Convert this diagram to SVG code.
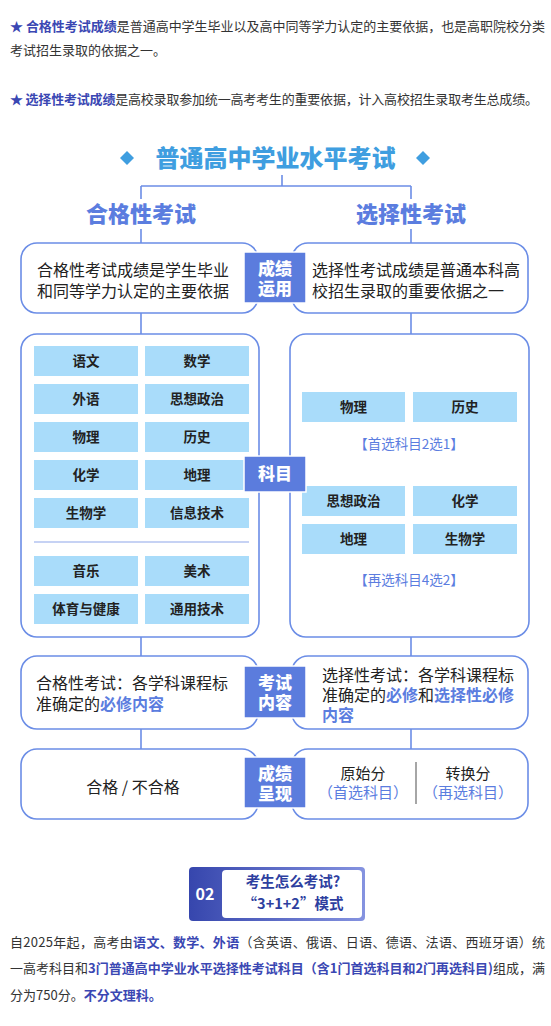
<svg xmlns="http://www.w3.org/2000/svg" width="551" height="1026" viewBox="0 0 551 1026">
<defs>
<linearGradient id="bannerGrad" x1="0" y1="0" x2="1" y2="0">
<stop offset="0" stop-color="#3646ad"/>
<stop offset="1" stop-color="#8593e0"/>
</linearGradient>
<style>
text{font-family:"Noto Sans CJK SC","Noto Sans",sans-serif;}
.p{font-size:13px;fill:#333333;}
.hl{fill:#3a47b3;font-weight:bold;}
.title{font-size:24px;font-weight:900;fill:#3f9ee0;stroke:#ffffff;stroke-width:2;paint-order:stroke;}
.diamond{fill:#3f9ee0;}
.head{font-size:22px;font-weight:900;fill:#5b7ddf;text-anchor:middle;stroke:#ffffff;stroke-width:2;paint-order:stroke;}
.box{fill:#ffffff;stroke:#6b8de6;stroke-width:1.6;}
.conn{stroke:#6b8de6;stroke-width:1.6;fill:none;}
.lbl{fill:#5b7cdd;stroke:#ffffff;stroke-width:1.5;}
.lblt{font-size:17px;font-weight:900;fill:#ffffff;text-anchor:middle;}
.bt{font-size:16px;fill:#222222;}
.rt{font-size:15px;fill:#222222;text-anchor:middle;}
.blue{fill:#5b7ddf;font-weight:bold;}
.cell{fill:#a9dcfa;}
.ct{font-size:13.5px;font-weight:bold;fill:#222222;text-anchor:middle;}
.note{font-size:13.5px;fill:#5b7ddf;text-anchor:middle;}
</style>
</defs>
<rect width="551" height="1026" fill="#ffffff"/>

<g id="intro">
<text class="p" x="10" y="31" textLength="535" lengthAdjust="spacing"><tspan class="hl">★ 合格性考试成绩</tspan>是普通高中学生毕业以及高中同等学力认定的主要依据，也是高职院校分类</text>
<text class="p" x="10" y="55">考试招生录取的依据之一。</text>
<text class="p" x="10" y="104" textLength="528" lengthAdjust="spacing"><tspan class="hl">★ 选择性考试成绩</tspan>是高校录取参加统一高考考生的重要依据，计入高校招生录取考生总成绩。</text>
</g>

<g id="title">
<polygon class="diamond" points="127,151 134,158 127,165 120,158"/>
<text class="title" x="275.5" y="167" text-anchor="middle">普通高中学业水平考试</text>
<polygon class="diamond" points="423,151 430,158 423,165 416,158"/>
</g>

<g id="connectors">
<line class="conn" x1="282" y1="175" x2="282" y2="186"/>
<line class="conn" x1="141" y1="186" x2="411" y2="186"/>
<line class="conn" x1="141" y1="186" x2="141" y2="199"/>
<line class="conn" x1="411" y1="186" x2="411" y2="199"/>
<line class="conn" x1="141" y1="229" x2="141" y2="243"/>
<line class="conn" x1="411" y1="229" x2="411" y2="243"/>
<line class="conn" x1="141" y1="313" x2="141" y2="334"/>
<line class="conn" x1="411" y1="313" x2="411" y2="334"/>
<line class="conn" x1="141" y1="637" x2="141" y2="656"/>
<line class="conn" x1="411" y1="637" x2="411" y2="656"/>
<line class="conn" x1="141" y1="729" x2="141" y2="749"/>
<line class="conn" x1="411" y1="729" x2="411" y2="749"/>
</g>

<g id="head-left"><text class="head" x="141" y="222">合格性考试</text></g>
<g id="head-right"><text class="head" x="411" y="222">选择性考试</text></g>

<g id="use-left">
<rect class="box" x="21" y="243" width="237" height="70" rx="16"/>
<text class="bt" x="37" y="276">合格性考试成绩是学生毕业</text>
<text class="bt" x="37" y="297">和同等学力认定的主要依据</text>
</g>
<g id="use-right">
<rect class="box" x="292" y="243" width="236" height="70" rx="16"/>
<text class="bt" x="312" y="276">选择性考试成绩是普通本科高</text>
<text class="bt" x="312" y="297">校招生录取的重要依据之一</text>
</g>
<g id="label-use">
<rect class="lbl" x="244" y="252" width="62" height="51"/>
<text class="lblt" x="275" y="275">成绩</text>
<text class="lblt" x="275" y="295">运用</text>
</g>

<g id="subjects-left">
<rect class="box" x="21" y="334" width="238" height="303" rx="16"/>
<rect class="cell" x="34" y="346" width="104" height="30"/><text class="ct" x="86" y="366">语文</text>
<rect class="cell" x="145" y="346" width="104" height="30"/><text class="ct" x="197" y="366">数学</text>
<rect class="cell" x="34" y="384" width="104" height="30"/><text class="ct" x="86" y="404">外语</text>
<rect class="cell" x="145" y="384" width="104" height="30"/><text class="ct" x="197" y="404">思想政治</text>
<rect class="cell" x="34" y="422" width="104" height="30"/><text class="ct" x="86" y="442">物理</text>
<rect class="cell" x="145" y="422" width="104" height="30"/><text class="ct" x="197" y="442">历史</text>
<rect class="cell" x="34" y="460" width="104" height="30"/><text class="ct" x="86" y="480">化学</text>
<rect class="cell" x="145" y="460" width="104" height="30"/><text class="ct" x="197" y="480">地理</text>
<rect class="cell" x="34" y="498" width="104" height="30"/><text class="ct" x="86" y="518">生物学</text>
<rect class="cell" x="145" y="498" width="104" height="30"/><text class="ct" x="197" y="518">信息技术</text>
<line x1="34" y1="542" x2="249" y2="542" stroke="#8ea6ea" stroke-width="1.2"/>
<rect class="cell" x="34" y="556" width="104" height="30"/><text class="ct" x="86" y="576">音乐</text>
<rect class="cell" x="145" y="556" width="104" height="30"/><text class="ct" x="197" y="576">美术</text>
<rect class="cell" x="34" y="594" width="104" height="30"/><text class="ct" x="86" y="614">体育与健康</text>
<rect class="cell" x="145" y="594" width="104" height="30"/><text class="ct" x="197" y="614">通用技术</text>
</g>
<g id="subjects-right">
<rect class="box" x="290" y="334" width="239" height="303" rx="16"/>
<rect class="cell" x="302" y="392" width="103" height="30"/><text class="ct" x="353.5" y="412">物理</text>
<rect class="cell" x="413" y="392" width="104" height="30"/><text class="ct" x="465" y="412">历史</text>
<text class="note" x="409" y="449">【首选科目2选1】</text>
<rect class="cell" x="302" y="486" width="103" height="30"/><text class="ct" x="353.5" y="506">思想政治</text>
<rect class="cell" x="413" y="486" width="104" height="30"/><text class="ct" x="465" y="506">化学</text>
<rect class="cell" x="302" y="524" width="103" height="30"/><text class="ct" x="353.5" y="544">地理</text>
<rect class="cell" x="413" y="524" width="104" height="30"/><text class="ct" x="465" y="544">生物学</text>
<text class="note" x="409" y="585">【再选科目4选2】</text>
</g>
<g id="label-subjects">
<rect class="lbl" x="244" y="456" width="62" height="36"/>
<text class="lblt" x="275" y="480">科目</text>
</g>

<g id="content-left">
<rect class="box" x="21" y="656" width="237" height="73" rx="16"/>
<text class="bt" x="36" y="689">合格性考试：各学科课程标</text>
<text class="bt" x="36" y="710">准确定的<tspan class="blue">必修内容</tspan></text>
</g>
<g id="content-right">
<rect class="box" x="292" y="656" width="236" height="73" rx="16"/>
<text class="bt" x="322" y="681">选择性考试：各学科课程标</text>
<text class="bt" x="322" y="701">准确定的<tspan class="blue">必修</tspan>和<tspan class="blue">选择性必修</tspan></text>
<text class="bt" x="322" y="721"><tspan class="blue">内容</tspan></text>
</g>
<g id="label-content">
<rect class="lbl" x="244" y="666" width="62" height="52"/>
<text class="lblt" x="275" y="689">考试</text>
<text class="lblt" x="275" y="709">内容</text>
</g>

<g id="result-left">
<rect class="box" x="21" y="749" width="237" height="70" rx="16"/>
<text class="bt" x="133" y="793" text-anchor="middle">合格 / 不合格</text>
</g>
<g id="result-right">
<rect class="box" x="292" y="749" width="236" height="70" rx="16"/>
<text class="rt" x="363" y="779">原始分</text>
<text class="rt" x="363" y="798" style="fill:#5b7ddf">（首选科目）</text>
<line x1="416" y1="762" x2="416" y2="804" stroke="#888888" stroke-width="1.5"/>
<text class="rt" x="468" y="779">转换分</text>
<text class="rt" x="468" y="798" style="fill:#5b7ddf">（再选科目）</text>
</g>
<g id="label-result">
<rect class="lbl" x="244" y="757" width="62" height="51"/>
<text class="lblt" x="275" y="780">成绩</text>
<text class="lblt" x="275" y="800">呈现</text>
</g>

<g id="banner">
<rect x="189" y="867" width="176" height="54" rx="4" fill="url(#bannerGrad)"/>
<rect x="222" y="870" width="140" height="48" rx="4" fill="#ffffff"/>
<text x="205" y="900" text-anchor="middle" font-size="16" font-weight="bold" fill="#ffffff">02</text>
<text x="293" y="887" text-anchor="middle" font-size="14.5" font-weight="bold" fill="#2e3f9f">考生怎么考试?</text>
<text x="293" y="909" text-anchor="middle" font-size="14.5" font-weight="bold" fill="#2e3f9f">“3+1+2”模式</text>
</g>

<g id="paragraph">
<text class="p" x="10" y="947" textLength="535" lengthAdjust="spacing">自2025年起，高考由<tspan class="hl">语文、数学、外语</tspan>（含英语、俄语、日语、德语、法语、西班牙语）统</text>
<text class="p" x="10" y="973" textLength="535" lengthAdjust="spacing">一高考科目和<tspan class="hl">3门普通高中学业水平选择性考试科目（含1门首选科目和2门再选科目)</tspan>组成，满</text>
<text class="p" x="10" y="1000">分为750分。<tspan class="hl">不分文理科。</tspan></text>
</g>
</svg>
